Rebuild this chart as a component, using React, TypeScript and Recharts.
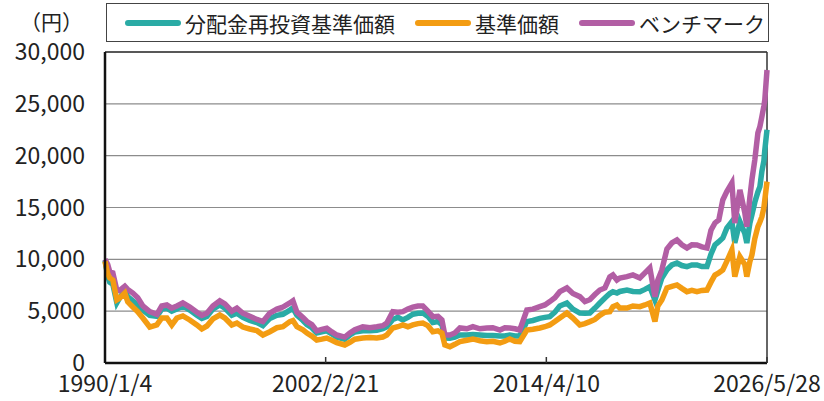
import { LineChart, Line, XAxis, YAxis, CartesianGrid, ReferenceLine } from "recharts";

// decimal years
const dates = [
  1990.01, 1990.16, 1990.27, 1990.44, 1990.66, 1990.82, 1991.10, 1991.26, 1991.54, 1991.81,
  1992.09, 1992.47, 1992.86, 1993.13, 1993.41, 1993.68, 1993.96, 1994.29, 1994.67, 1995.06,
  1995.33, 1995.61, 1995.94, 1996.32, 1996.60, 1996.98, 1997.26, 1997.59, 1997.97, 1998.36,
  1998.69, 1999.07, 1999.46, 1999.79, 2000.17, 2000.34, 2000.56, 2000.89, 2001.11, 2001.38,
  2001.65, 2001.93, 2002.20, 2002.48, 2002.75, 2003.19, 2003.47, 2003.74, 2004.18, 2004.57,
  2004.95, 2005.28, 2005.50, 2005.83, 2006.11, 2006.38, 2006.66, 2006.93, 2007.21, 2007.48,
  2007.76, 2008.03, 2008.31, 2008.53, 2008.69, 2008.97, 2009.24, 2009.52, 2009.90, 2010.23,
  2010.62, 2011.00, 2011.33, 2011.72, 2011.99, 2012.26, 2012.54, 2012.81, 2013.20, 2013.53,
  2013.91, 2014.19, 2014.46, 2014.74, 2015.01, 2015.40, 2015.73, 2016.11, 2016.39, 2016.66,
  2016.94, 2017.21, 2017.49, 2017.76, 2017.93, 2018.15, 2018.31, 2018.70, 2019.03, 2019.41,
  2019.69, 2019.96, 2020.24, 2020.40, 2020.62, 2020.90, 2021.17, 2021.45, 2021.72, 2022.00,
  2022.27, 2022.55, 2022.82, 2023.10, 2023.32, 2023.54, 2023.75, 2023.97, 2024.19, 2024.47,
  2024.63, 2024.91, 2025.18, 2025.29, 2025.46, 2025.57, 2025.73, 2025.90, 2026.01, 2026.12,
  2026.23, 2026.28, 2026.40,
];

// 基準価額
const nav = [
  9800, 8600, 8200, 8000, 6100, 6270, 6750, 5900, 5400, 4950,
  4340, 3470, 3670, 4340, 4340, 3670, 4340, 4540, 4150, 3670,
  3280, 3570, 4250, 4630, 4340, 3670, 3860, 3470, 3280, 3120,
  2700, 3020, 3400, 3500, 3990, 4100, 3500, 3200, 2890, 2600,
  2220, 2300, 2410, 2200, 1960, 1740, 2000, 2300, 2410, 2450,
  2410, 2500, 2700, 3380, 3500, 3670, 3500, 3670, 3800, 3860,
  3600, 3020, 3100, 2890, 1740, 1570, 1800, 2060, 2200, 2320,
  2150, 2060, 2100, 1930, 2100, 2320, 2100, 2060, 3180, 3250,
  3380, 3500, 3670, 4000, 4340, 4820, 4340, 3670, 3800, 3990,
  4200, 4600, 4900, 4950, 5430, 5600, 5300, 5300, 5500, 5430,
  5600, 5790, 4000, 5500, 6080, 7240, 7400, 7530, 7200, 6880,
  7000, 6880, 7000, 7040, 7800, 8490, 8700, 8970, 9800, 10900,
  8330, 10260, 9500, 8330, 9800, 10420, 12000, 13150, 13600, 14120,
  15000, 15730, 17500,
];

// 分配金再投資基準価額
const reinvested = [
  9900, 8400, 7800, 7600, 5800, 6300, 7000, 6400, 6000, 5600,
  5100, 4600, 4500, 5200, 5300, 5000, 5200, 5500, 5100, 4600,
  4300, 4500, 5200, 5600, 5300, 4600, 4800, 4400, 4100, 3900,
  3600, 4300, 4600, 4700, 5100, 5300, 4600, 4100, 3700, 3400,
  2900, 3000, 3100, 2800, 2500, 2300, 2700, 3000, 3100, 3100,
  3150, 3300, 3500, 4200, 4400, 4150, 4400, 4700, 4800, 4820,
  4500, 3900, 4000, 3700, 2410, 2400, 2500, 2700, 2700, 2750,
  2700, 2650, 2650, 2600, 2600, 2700, 2600, 2600, 3990, 4100,
  4300, 4400, 4470, 4900, 5500, 5790, 5200, 4820, 4800, 4820,
  5300, 5790, 6270, 6700, 6880, 6750, 6900, 7040, 6900, 6880,
  7100, 7360, 6080, 7000, 8200, 9000, 9460, 9650, 9400, 9300,
  9460, 9460, 9300, 9300, 10500, 11390, 11700, 12060, 13000, 13640,
  11580, 13640, 12500, 11580, 13500, 14280, 15500, 16500, 17010, 18500,
  19500, 20550, 22500,
];

// ベンチマーク
const benchmark = [
  10000, 9500, 8800, 8700, 7000, 7000, 7400, 7100, 6750, 6300,
  5500, 4950, 4700, 5500, 5600, 5300, 5500, 5800, 5400, 4900,
  4600, 4800, 5500, 6000, 5700, 5000, 5300, 4800, 4500, 4200,
  4000, 4820, 5200, 5400, 5790, 6000, 4900, 4400, 4000, 3700,
  3100, 3250, 3350, 3000, 2700, 2500, 2900, 3200, 3500, 3400,
  3500, 3600, 3860, 4950, 4900, 4950, 5200, 5400, 5500, 5500,
  5000, 4470, 4500, 4150, 2700, 2700, 2900, 3380, 3300, 3500,
  3300, 3380, 3400, 3180, 3400, 3380, 3300, 3180, 5110, 5200,
  5430, 5600, 5920, 6300, 6880, 7240, 6700, 6400, 5920, 6100,
  6600, 7040, 7240, 8300, 8490, 8000, 8200, 8330, 8500, 8200,
  8700, 9170, 6400, 8000, 8970, 11000, 11580, 11870, 11400, 11100,
  11400, 11390, 11200, 11100, 12800, 13510, 13800, 15730, 16530, 17370,
  13500, 16700, 14500, 13150, 16000, 17660, 19600, 22200, 22800, 23770,
  24800, 25380, 28270,
];

const xTicks = [1990.01, 2002.14, 2014.27, 2026.4];
const xTickLabels = ["1990/1/4", "2002/2/21", "2014/4/10", "2026/5/28"];
const yTicks = [0, 5000, 10000, 15000, 20000, 25000, 30000];

const seriesInfo = [
  { key: "reinvested", name: "分配金再投資基準価額", color: "#2aaba5" },
  { key: "nav", name: "基準価額", color: "#f39c12" },
  { key: "benchmark", name: "ベンチマーク", color: "#b25ea4" },
];

const data = dates.map((d, i) => ({
  date: d,
  nav: nav[i],
  reinvested: reinvested[i],
  benchmark: benchmark[i],
}));

const font = "'Noto Sans CJK JP', 'Noto Sans', sans-serif";

export default function App() {
  return (
    <div style={{ position: "absolute", left: 0, top: 0, width: 824, height: 401, background: "#fff", fontFamily: font }}>
      <LineChart width={824} height={401} data={data} margin={{ top: 52, right: 57, bottom: 8, left: 0 }}>
        <CartesianGrid vertical={false} stroke="#8c8c8c" strokeWidth={1.2} />
        <XAxis
          type="number"
          dataKey="date"
          domain={[1990.01, 2026.4]}
          ticks={xTicks}
          height={30}
          tickFormatter={(v) => xTickLabels[xTicks.indexOf(v)]}
          axisLine={{ stroke: "#111", strokeWidth: 2.5 }}
          tickLine={{ stroke: "#333", strokeWidth: 1.5 }}
          tickSize={-6}
          tickMargin={19}
          tick={{ fill: "#222", fontSize: 23, fontFamily: font }}
          interval={0}
        />
        <YAxis
          domain={[0, 30000]}
          ticks={yTicks}
          width={105}
          tickFormatter={(v) => v.toLocaleString("en-US")}
          axisLine={{ stroke: "#111", strokeWidth: 2.5 }}
          tickLine={false}
          tickMargin={14}
          tick={{ fill: "#222", fontSize: 23, fontFamily: font }}
          interval={0}
        />
        <ReferenceLine y={30000} stroke="#333" strokeWidth={1.5} />
        <ReferenceLine x={2026.4} stroke="#333" strokeWidth={1.5} />
        <Line type="linear" dataKey="reinvested" stroke="#2aaba5" strokeWidth={5.5} dot={false} isAnimationActive={false} />
        <Line type="linear" dataKey="benchmark" stroke="#b25ea4" strokeWidth={5.5} dot={false} isAnimationActive={false} />
        <Line type="linear" dataKey="nav" stroke="#f39c12" strokeWidth={5.5} dot={false} isAnimationActive={false} />
      </LineChart>
      <div style={{ position: "absolute", left: 20, top: 10, fontSize: 21, lineHeight: "22px", color: "#222" }}>（円）</div>
      <div
        style={{
          position: "absolute",
          left: 106,
          top: 3,
          width: 661,
          height: 37,
          border: "1.5px solid #444",
          display: "flex",
          alignItems: "center",
          fontSize: 21,
          color: "#222",
          boxSizing: "content-box",
        }}
      >
        {seriesInfo.map((s, i) => (
          <div key={s.key} style={{ display: "flex", alignItems: "center", marginLeft: i === 0 ? 18 : 20 }}>
            <span style={{ display: "inline-block", width: 56, height: 6, borderRadius: 3, background: s.color, marginRight: 4 }} />
            <span>{s.name}</span>
          </div>
        ))}
      </div>
    </div>
  );
}
